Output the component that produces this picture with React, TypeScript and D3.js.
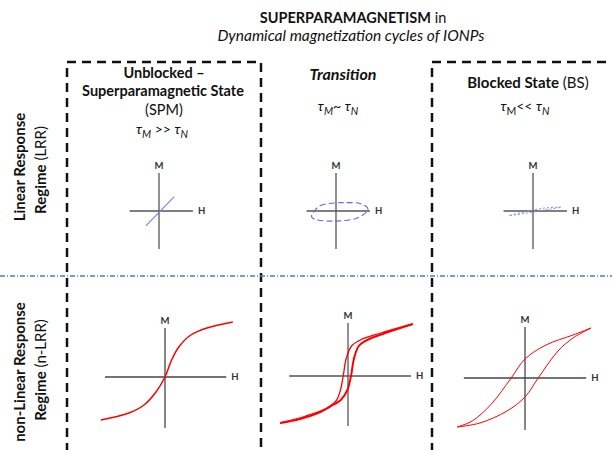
import { useEffect, useRef } from "react";
import * as d3 from "d3";

// Pannelli (H, M) in unità normalizzate
const lrrSpm: [number, number][] = [
  [-0.41, -0.39],
  [0.47, 0.37],
];
const lrrTransition: [number, number][] = [
  [-0.76, -0.12],
  [-0.5, 0.14],
  [-0.05, 0.21],
  [0.33, 0.22],
  [0.75, 0.2],
  [1.0, 0.03],
  [0.65, -0.19],
  [0.1, -0.26],
  [-0.34, -0.26],
  [-0.66, -0.22],
];
const lrrBlocked: [number, number][] = [
  [-0.75, -0.12],
  [-0.3, -0.03],
  [0.3, 0.07],
  [0.88, 0.1],
  [0.3, 0.02],
  [-0.3, -0.07],
];
const nlrrSpm: [number, number][] = [
  [-1.07, -0.86],
  [-0.6, -0.72],
  [-0.35, -0.56],
  [-0.15, -0.3],
  [0, 0],
  [0.11, 0.34],
  [0.23, 0.6],
  [0.43, 0.84],
  [0.7, 0.98],
  [1.13, 1.1],
];
const nlrrTransitionUp: [number, number][] = [
  [-1.13, -0.94],
  [-0.8, -0.86],
  [-0.5, -0.74],
  [-0.28, -0.6],
  [-0.12, -0.48],
  [-0.01, -0.28],
  [0.05, 0],
  [0.1, 0.35],
  [0.18, 0.6],
  [0.32, 0.72],
  [0.6, 0.85],
  [1.08, 1.04],
];
const nlrrTransitionDown: [number, number][] = [
  [1.08, 1.04],
  [0.55, 0.86],
  [0.22, 0.73],
  [0.06, 0.6],
  [-0.03, 0.35],
  [-0.08, 0],
  [-0.13, -0.3],
  [-0.2, -0.5],
  [-0.35, -0.64],
  [-0.7, -0.8],
  [-1.13, -0.94],
];
const nlrrBlockedDown: [number, number][] = [
  [1.1, 1.0],
  [0.8, 0.86],
  [0.35, 0.66],
  [0, 0.38],
  [-0.23, 0],
  [-0.56, -0.52],
  [-0.88, -0.86],
  [-1.13, -0.98],
];
const nlrrBlockedUp: [number, number][] = [
  [-1.13, -0.98],
  [-0.75, -0.9],
  [-0.3, -0.66],
  [0, -0.38],
  [0.22, 0],
  [0.55, 0.54],
  [0.8, 0.8],
  [1.1, 1.0],
];

const titleLines = ["SUPERPARAMAGNETISM", " in", "Dynamical magnetization cycles of IONPs"];
const axisLabels = ["M", "H"];

const FONT = "Lato, 'Open Sans', sans-serif";

function App() {
  const ref = useRef<SVGSVGElement>(null);

  useEffect(() => {
    if (!ref.current) return;
    const svg = d3.select(ref.current);
    svg.selectAll("*").remove();
    svg.style("font-family", FONT);

    // Titolo
    const title = svg
      .append("text")
      .attr("x", 353)
      .attr("y", 23)
      .attr("text-anchor", "middle")
      .style("font-size", "14.5px")
      .style("fill", "#111");
    title.append("tspan").style("font-weight", "700").text(titleLines[0]);
    title.append("tspan").style("font-weight", "400").text(titleLines[1]);
    svg
      .append("text")
      .attr("x", 351)
      .attr("y", 41)
      .attr("text-anchor", "middle")
      .style("font-size", "15.5px")
      .style("font-style", "italic")
      .style("fill", "#111")
      .text(titleLines[2]);

    // Riquadri tratteggiati
    svg
      .append("path")
      .attr("d", "M67,452 L67,62 L261,62 L261,452")
      .style("fill", "none")
      .style("stroke", "#111")
      .style("stroke-width", 2.5)
      .style("stroke-dasharray", "9,6");
    svg
      .append("path")
      .attr("d", "M432,452 L432,62 L614,62")
      .style("fill", "none")
      .style("stroke", "#111")
      .style("stroke-width", 2.5)
      .style("stroke-dasharray", "9,6");

    // Linea di separazione
    svg
      .append("line")
      .attr("x1", 0)
      .attr("x2", 612)
      .attr("y1", 276)
      .attr("y2", 276)
      .style("stroke", "#4a7ebb")
      .style("stroke-width", 1.5)
      .style("stroke-dasharray", "5,2,1,2");

    // Intestazioni colonne
    const header = (
      x: number,
      y: number,
      size: number,
      parts: { t: string; b?: boolean; i?: boolean }[]
    ) => {
      const t = svg
        .append("text")
        .attr("x", x)
        .attr("y", y)
        .attr("text-anchor", "middle")
        .style("font-size", `${size}px`)
        .style("fill", "#111");
      parts.forEach((p) =>
        t
          .append("tspan")
          .style("font-weight", p.b ? "700" : "400")
          .style("font-style", p.i ? "italic" : "normal")
          .text(p.t)
      );
    };
    header(164, 78, 14.5, [{ t: "Unblocked –", b: true }]);
    header(163, 96, 14.5, [{ t: "Superparamagnetic State", b: true }]);
    header(164, 115, 14.5, [{ t: "(SPM)" }]);
    header(343, 80, 16, [{ t: "Transition", b: true, i: true }]);
    header(528, 88, 15, [{ t: "Blocked State", b: true }, { t: " (BS)" }]);

    // τ con pedici
    const tau = (x: number, y: number, op: string, mItalic: boolean) => {
      const t = svg
        .append("text")
        .attr("x", x)
        .attr("y", y)
        .attr("text-anchor", "middle")
        .style("font-size", "14px")
        .style("fill", "#111");
      t.append("tspan").style("font-style", "italic").text("τ");
      t.append("tspan")
        .attr("dy", 4)
        .style("font-size", "10.5px")
        .style("font-style", mItalic ? "italic" : "normal")
        .text("M");
      t.append("tspan").attr("dy", -4).text(op);
      t.append("tspan").style("font-style", "italic").text("τ");
      t.append("tspan").attr("dy", 4).style("font-size", "10.5px").style("font-style", "italic").text("N");
    };
    tau(162, 134, " >> ", true);
    tau(338, 111, "~ ", true);
    tau(525, 111, "<< ", false);

    // Etichette di riga (ruotate)
    const rowLabel = (x: number, y: number, parts: { t: string; b?: boolean }[]) => {
      const t = svg
        .append("text")
        .attr("transform", `translate(${x},${y}) rotate(-90)`)
        .attr("text-anchor", "middle")
        .style("font-size", "15px")
        .style("fill", "#111");
      parts.forEach((p) =>
        t.append("tspan").style("font-weight", p.b ? "700" : "400").text(p.t)
      );
    };
    rowLabel(25, 167, [{ t: "Linear Response", b: true }]);
    rowLabel(46, 170, [{ t: "Regime", b: true }, { t: " (LRR)" }]);
    rowLabel(25, 372, [{ t: "non-Linear Response", b: true }]);
    rowLabel(46, 370, [{ t: "Regime", b: true }, { t: " (n-LRR)" }]);

    // Pannelli
    type Panel = {
      cx: number;
      cy: number;
      hu: number;
      mu: number;
      hExt: [number, number];
      mExt: [number, number];
      axisColor: string;
    };
    type Scales = { x: d3.ScaleLinear<number, number>; y: d3.ScaleLinear<number, number> };
    const drawAxes = (p: Panel): Scales => {
      const x = d3.scaleLinear().domain([-1, 1]).range([p.cx - p.hu, p.cx + p.hu]);
      const y = d3.scaleLinear().domain([-1, 1]).range([p.cy + p.mu, p.cy - p.mu]);
      const g = svg.append("g");
      g.append("line")
        .attr("x1", x(p.hExt[0]))
        .attr("x2", x(p.hExt[1]))
        .attr("y1", y(0))
        .attr("y2", y(0))
        .style("stroke", p.axisColor)
        .style("stroke-width", 1.3);
      g.append("line")
        .attr("x1", x(0))
        .attr("x2", x(0))
        .attr("y1", y(p.mExt[0]))
        .attr("y2", y(p.mExt[1]))
        .style("stroke", p.axisColor)
        .style("stroke-width", 1.3);
      g.append("text")
        .attr("x", x(0))
        .attr("y", y(p.mExt[1]) - 4)
        .attr("text-anchor", "middle")
        .style("font-size", "9.5px")
        .style("font-weight", "700")
        .style("fill", "#333")
        .text(axisLabels[0]);
      g.append("text")
        .attr("x", x(p.hExt[1]) + 5)
        .attr("y", y(0))
        .attr("dy", "0.35em")
        .style("font-size", "9.5px")
        .style("font-weight", "700")
        .style("fill", "#333")
        .text(axisLabels[1]);
      return { x, y };
    };

    const curve = (
      s: Scales,
      data: [number, number][],
      color: string,
      width: number,
      dash: string | null,
      closed = false
    ) => {
      const line = d3
        .line<[number, number]>()
        .x((d) => s.x(d[0]))
        .y((d) => s.y(d[1]))
        .curve(closed ? d3.curveCardinalClosed : d3.curveLinear);
      svg
        .append("path")
        .attr("d", line(data))
        .style("fill", "none")
        .style("stroke", color)
        .style("stroke-width", width)
        .style("stroke-dasharray", dash);
    };
    const loopBranch = (s: Scales, data: [number, number][], width: number) => {
      const line = d3
        .line<[number, number]>()
        .x((d) => s.x(d[0]))
        .y((d) => s.y(d[1]))
        .curve(d3.curveCatmullRom);
      svg
        .append("path")
        .attr("d", line(data))
        .style("fill", "none")
        .style("stroke", "#ff0000")
        .style("stroke-width", width);
    };

    // Regime lineare
    const topCfg = {
      hu: 32,
      mu: 38,
      hExt: [-0.92, 1.06] as [number, number],
      mExt: [-1, 1] as [number, number],
      axisColor: "#555",
    };
    const t1 = drawAxes({ cx: 159, cy: 211, ...topCfg });
    curve(t1, lrrSpm, "#8080f0", 1.2, null);
    const t2 = drawAxes({ cx: 336, cy: 211, ...topCfg });
    curve(t2, lrrTransition, "#6464ea", 1.1, "6,3", true);
    const t3 = drawAxes({ cx: 533, cy: 211, ...topCfg });
    curve(t3, lrrBlocked, "#8a8af0", 1, "2,2", true);

    // Regime non lineare
    const b1 = drawAxes({ cx: 165, cy: 377, hu: 60, mu: 50, hExt: [-1, 1.02], mExt: [-1.02, 0.98], axisColor: "#444" });
    loopBranch(b1, nlrrSpm, 1.5);
    const b2 = drawAxes({ cx: 348, cy: 376, hu: 60, mu: 50, hExt: [-0.98, 1.05], mExt: [-1, 1.06], axisColor: "#555" });
    loopBranch(b2, nlrrTransitionUp, 2);
    loopBranch(b2, nlrrTransitionDown, 1.3);
    const b3 = drawAxes({ cx: 525, cy: 378, hu: 60, mu: 50, hExt: [-1.02, 1.02], mExt: [-1.04, 1.02], axisColor: "#444" });
    loopBranch(b3, nlrrBlockedDown, 1);
    loopBranch(b3, nlrrBlockedUp, 1);
  }, []);

  return (
    <svg
      ref={ref}
      width={612}
      height={450}
      viewBox="0 0 612 450"
      style={{ position: "absolute", left: 0, top: 0, background: "#fff" }}
    />
  );
}

export default App;
